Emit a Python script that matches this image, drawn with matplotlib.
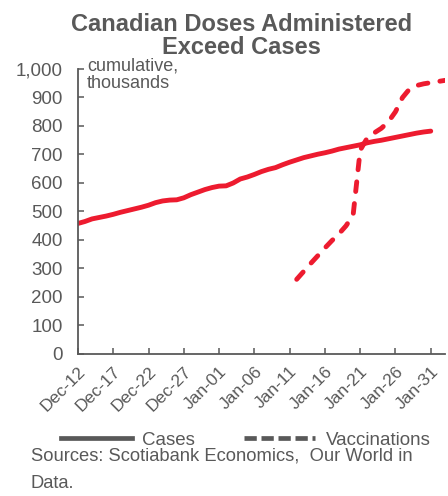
import matplotlib
matplotlib.use("Agg")
import matplotlib.pyplot as plt
from matplotlib.lines import Line2D
from matplotlib.ticker import FuncFormatter
import numpy as np
import pandas as pd

# ---- data (cumulative, thousands) ----
case_start = "2020-12-12"
cases = [458, 465, 474, 479, 484, 490, 497, 503, 509, 515,
         522, 531, 537, 540, 541, 548, 559, 568, 577, 584,
         589, 590, 600, 614, 621, 630, 640, 648, 654, 664,
         673, 681, 689, 695, 701, 706, 712, 719, 724, 729,
         734, 741, 746, 750, 755, 760, 765, 770, 775, 779, 782]
vacc_start = "2021-01-12"
vaccinations = [262, 290, 318, 345, 372, 398, 422, 450, 488, 715,
                758, 776, 792, 815, 850, 900, 930, 942, 948, 952, 956, 960]
tick_labels = ["Dec-12", "Dec-17", "Dec-22", "Dec-27", "Jan-01", "Jan-06",
               "Jan-11", "Jan-16", "Jan-21", "Jan-26", "Jan-31"]
y_ticks = [0, 100, 200, 300, 400, 500, 600, 700, 800, 900, 1000]

RED = "#ED1B2F"
GRAY = "#595959"
plt.rcParams["font.family"] = ["Liberation Sans", "DejaVu Sans"]

case_dates = pd.date_range(case_start, periods=len(cases), freq="D")
vacc_dates = pd.date_range(vacc_start, periods=len(vaccinations), freq="D")
origin = pd.Timestamp(case_start)
cx = np.array([(d - origin).days for d in case_dates])
vx = np.array([(d - origin).days for d in vacc_dates])

fig = plt.figure(figsize=(4.48, 4.96), dpi=100)
ax = fig.add_axes([0.174, 0.2863, 0.819, 0.5746])

ax.plot(cx, cases, color=RED, lw=3.5, solid_capstyle="round", solid_joinstyle="round")
ax.plot(vx, vaccinations, color=RED, lw=3.5, linestyle=(0, (2.0, 2.5)),
        dash_capstyle="round", dash_joinstyle="round")

ax.set_xlim(0, 52)
ax.set_ylim(0, 1000)
ax.set_yticks(y_ticks)
ax.yaxis.set_major_formatter(FuncFormatter(lambda v, p: f"{int(v):,}"))
ax.set_xticks(np.arange(0, 5 * len(tick_labels), 5))
ax.set_xticklabels(tick_labels, rotation=45, ha="right", va="top",
                   rotation_mode="anchor")

for s in ["top", "right"]:
    ax.spines[s].set_visible(False)
for s in ["left", "bottom"]:
    ax.spines[s].set_color(GRAY)
    ax.spines[s].set_linewidth(1.3)
ax.tick_params(axis="both", direction="in", length=4, width=1.1, color=GRAY,
               labelcolor=GRAY, labelsize=13.5)
ax.tick_params(axis="y", pad=11)
ax.tick_params(axis="x", pad=7, labelsize=12.5)

ax.text(0.025, 1.04, "cumulative,\nthousands", transform=ax.transAxes,
        ha="left", va="top", fontsize=13, color=GRAY, linespacing=1.05)

fig.text(0.54, 0.974, "Canadian Doses Administered\nExceed Cases", ha="center",
         va="top", fontsize=17, fontweight="bold", color=GRAY, linespacing=1.0)

handles = [Line2D([], [], color=GRAY, lw=3.4),
           Line2D([], [], color=GRAY, lw=3.4, linestyle=(0, (2.6, 1.0)))]
fig.legend(handles, ["Cases", "Vaccinations"], loc="center",
           bbox_to_anchor=(0.548, 0.112), ncol=2, frameon=False,
           fontsize=13.5, handlelength=3.8, handletextpad=0.55,
           columnspacing=2.6, labelcolor=GRAY)

fig.text(0.069, 0.097, "Sources: Scotiabank Economics,  Our World in\nData.",
         ha="left", va="top", fontsize=13.2, color=GRAY, linespacing=1.8)

fig.savefig("out.png", dpi=100)
